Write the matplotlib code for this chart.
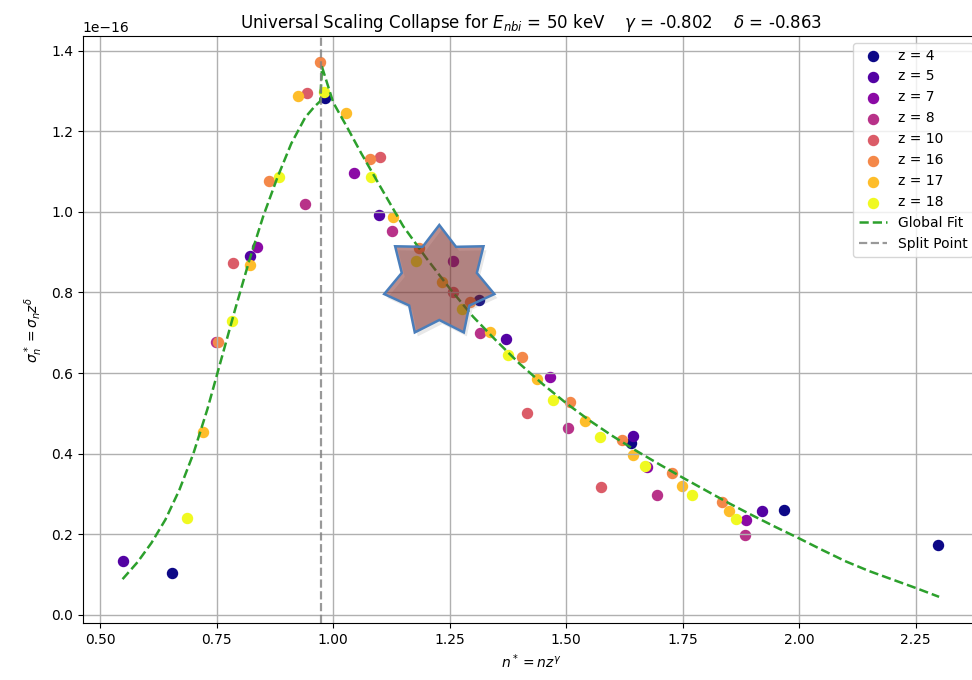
import numpy as np
import matplotlib
matplotlib.use("Agg")
import matplotlib.pyplot as plt
from matplotlib.patches import Polygon

# scaled data, sigma* in units of 1e-16
z_values = [4, 5, 7, 8, 10, 16, 17, 18]

n_star = {
    4: [0.655, 0.983, 1.312, 1.639, 1.968, 2.297],
    5: [0.549, 0.822, 1.098, 1.371, 1.644, 1.921],
    7: [0.837, 1.045, 1.257, 1.466, 1.674, 1.886],
    8: [0.749, 0.940, 1.127, 1.315, 1.503, 1.695, 1.883],
    10: [0.786, 0.943, 1.101, 1.257, 1.416, 1.574],
    16: [0.753, 0.863, 0.972, 1.078, 1.185, 1.294, 1.404, 1.509, 1.619, 1.727, 1.835],
    17: [0.720, 0.822, 0.925, 1.028, 1.129, 1.233, 1.337, 1.438, 1.541, 1.644, 1.748, 1.850],
    18: [0.686, 0.783, 0.883, 0.981, 1.080, 1.178, 1.277, 1.375, 1.471, 1.572, 1.668, 1.769, 1.865],
}
sigma_star = {
    4: [0.104, 1.284, 0.781, 0.425, 0.260, 0.174],
    5: [0.132, 0.891, 0.992, 0.685, 0.444, 0.256],
    7: [0.914, 1.098, 0.878, 0.590, 0.366, 0.234],
    8: [0.677, 1.021, 0.952, 0.700, 0.463, 0.296, 0.198],
    10: [0.873, 1.295, 1.136, 0.800, 0.501, 0.317],
    16: [0.677, 1.078, 1.373, 1.131, 0.910, 0.776, 0.641, 0.528, 0.434, 0.351, 0.280],
    17: [0.454, 0.868, 1.287, 1.245, 0.987, 0.826, 0.702, 0.584, 0.481, 0.396, 0.319, 0.258],
    18: [0.239, 0.729, 1.087, 1.298, 1.087, 0.878, 0.758, 0.645, 0.533, 0.442, 0.369, 0.296, 0.238],
}

# global fit curve (left branch then right branch)
fit_x = [0.548, 0.58, 0.61, 0.64, 0.67, 0.70, 0.73, 0.76, 0.79, 0.82, 0.85, 0.88, 0.91, 0.94, 0.96, 0.972,
         0.976, 1.00, 1.03, 1.06, 1.10, 1.15, 1.20, 1.25, 1.30, 1.35, 1.40, 1.45, 1.50, 1.55, 1.60, 1.65,
         1.70, 1.75, 1.80, 1.85, 1.90, 1.95, 2.00, 2.05, 2.10, 2.15, 2.20, 2.25, 2.30]
fit_y = [0.088, 0.130, 0.178, 0.236, 0.310, 0.400, 0.510, 0.635, 0.760, 0.880, 0.990, 1.085, 1.170, 1.235, 1.262, 1.275,
         1.360, 1.272, 1.210, 1.146, 1.065, 0.965, 0.885, 0.810, 0.740, 0.680, 0.623, 0.572, 0.525, 0.482, 0.443, 0.407,
         0.373, 0.340, 0.308, 0.276, 0.246, 0.217, 0.189, 0.160, 0.132, 0.108, 0.087, 0.066, 0.044]

split_point = 0.973
E_nbi = 50
gamma = -0.802
delta = -0.863
scale = 1e-16


def star_points(cx, cy, R, r, dx=0, dy=0):
    pts = []
    for k in range(14):
        a = np.pi / 2 + k * np.pi / 7
        rad = R if k % 2 == 0 else r
        pts.append(((cx + dx + rad * np.cos(a)) / 972, (cy + dy + rad * np.sin(a)) / 680))
    return pts


def main():
    fig = plt.figure(figsize=(9.72, 6.8), dpi=100)
    # axes runs past the right edge like the cropped screenshot
    ax = fig.add_axes([0.0851, 0.0838, 0.923, 0.8632])

    colors = plt.cm.plasma(np.linspace(0, 1, len(z_values)))
    for z, c in zip(z_values, colors):
        ax.scatter(n_star[z], np.array(sigma_star[z]) * scale, color=c, s=52, label=f'z = {z}')

    ax.plot(fit_x, np.array(fit_y) * scale, '--', color='tab:green', lw=1.8, label='Global Fit')
    ax.axvline(split_point, color='gray', ls='--', alpha=0.8, lw=1.6, label='Split Point')

    ax.set_xlim(0.4625, 2.3875)
    ax.set_ylim(-0.021e-16, 1.437e-16)
    ax.set_xlabel(r'$n^* = nz^\gamma$')
    ax.set_ylabel(r'$\sigma_n^* = \sigma_n z^\delta$')
    ax.set_title(rf'Universal Scaling Collapse for $E_{{nbi}}$ = {E_nbi} keV    $\gamma$ = {gamma}    $\delta$ = {delta}')
    ax.grid(True, lw=1.0)
    ax.legend(loc='upper right')

    # the star sticker pasted on top of the screenshot
    cx, cy, R, r = 439.3, 680 - 281.5, 56.5, 38.5
    shadow = Polygon(star_points(cx, cy, R, r, 3, -4), closed=True, transform=fig.transFigure,
                     facecolor='gray', alpha=0.18, edgecolor='none', zorder=9)
    fig.add_artist(shadow)
    star = Polygon(star_points(cx, cy, R, r), closed=True, transform=fig.transFigure,
                   facecolor='#7b1f1b', alpha=0.5, edgecolor='none', zorder=10)
    fig.add_artist(star)
    outline = Polygon(star_points(cx, cy, R, r), closed=True, transform=fig.transFigure,
                      facecolor='none', edgecolor='#4a7ebb', lw=1.8, zorder=11)
    fig.add_artist(outline)

    fig.savefig('out.png', dpi=100)


if __name__ == "__main__":
    main()
